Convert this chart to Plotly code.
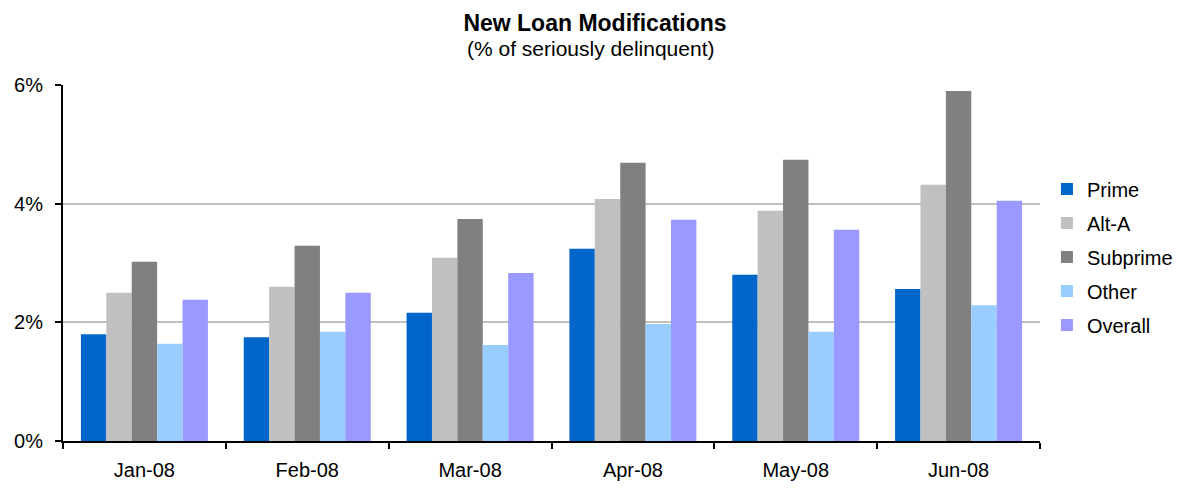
import plotly.graph_objects as go

# data (% of seriously delinquent loans)
months = ['Jan-08', 'Feb-08', 'Mar-08', 'Apr-08', 'May-08', 'Jun-08']
prime = [1.80, 1.75, 2.16, 3.24, 2.80, 2.56]
alt_a = [2.50, 2.60, 3.09, 4.08, 3.88, 4.32]
subprime = [3.02, 3.29, 3.74, 4.69, 4.74, 5.90]
other = [1.64, 1.84, 1.62, 1.97, 1.84, 2.29]
overall = [2.38, 2.50, 2.83, 3.73, 3.56, 4.05]

series = [
    ('Prime', prime, '#0066CC'),
    ('Alt-A', alt_a, '#C0C0C0'),
    ('Subprime', subprime, '#808080'),
    ('Other', other, '#99CCFF'),
    ('Overall', overall, '#9999FF'),
]

fig = go.Figure()
for name, vals, col in series:
    fig.add_trace(go.Bar(x=months, y=[v / 100 for v in vals], name=name,
                         marker=dict(color=col, line=dict(width=0)),
                         legendgroup=name))

# page body has an 8px margin, so the figure is shifted; sizes compensate
fig.update_layout(
    width=1182, height=480,
    margin=dict(l=55, r=142, t=77, b=47),
    paper_bgcolor='white', plot_bgcolor='white',
    font=dict(family='Liberation Sans, Arial, sans-serif', size=20, color='black'),
    barmode='group', bargap=0.22, bargroupgap=0,
    title=dict(text='<b>New Loan Modifications</b>', x=587 / 1182, xref='container',
               xanchor='center', y=1 - 15 / 480, yanchor='middle',
               font=dict(size=23)),
    legend=dict(x=(1055 - 63) / 985, xanchor='left', y=(441 - 257) / 356, yanchor='middle',
                font=dict(size=20), tracegroupgap=5, traceorder='grouped'),
)
fig.add_annotation(text='(% of seriously delinquent)', xref='paper', yref='paper',
                   x=(595 - 63) / 985, y=(441 - 49) / 356, showarrow=False,
                   xanchor='center', yanchor='middle', font=dict(size=21))

fig.update_yaxes(range=[0, 0.06], tickvals=[0, 0.02, 0.04, 0.06], tickformat='.0%',
                 showgrid=True, gridcolor='#C0C0C0', gridwidth=2,
                 showline=True, linecolor='black', linewidth=2,
                 ticks='outside', ticklen=6, tickwidth=2, tickcolor='black',
                 ticklabelstandoff=8, zeroline=False, automargin=False)
fig.update_xaxes(type='category', tickson='boundaries', showgrid=False,
                 showline=True, linecolor='black', linewidth=2,
                 ticks='outside', ticklen=6, tickwidth=2, tickcolor='black',
                 ticklabelstandoff=10, automargin=False)

fig.write_html('out.html')
